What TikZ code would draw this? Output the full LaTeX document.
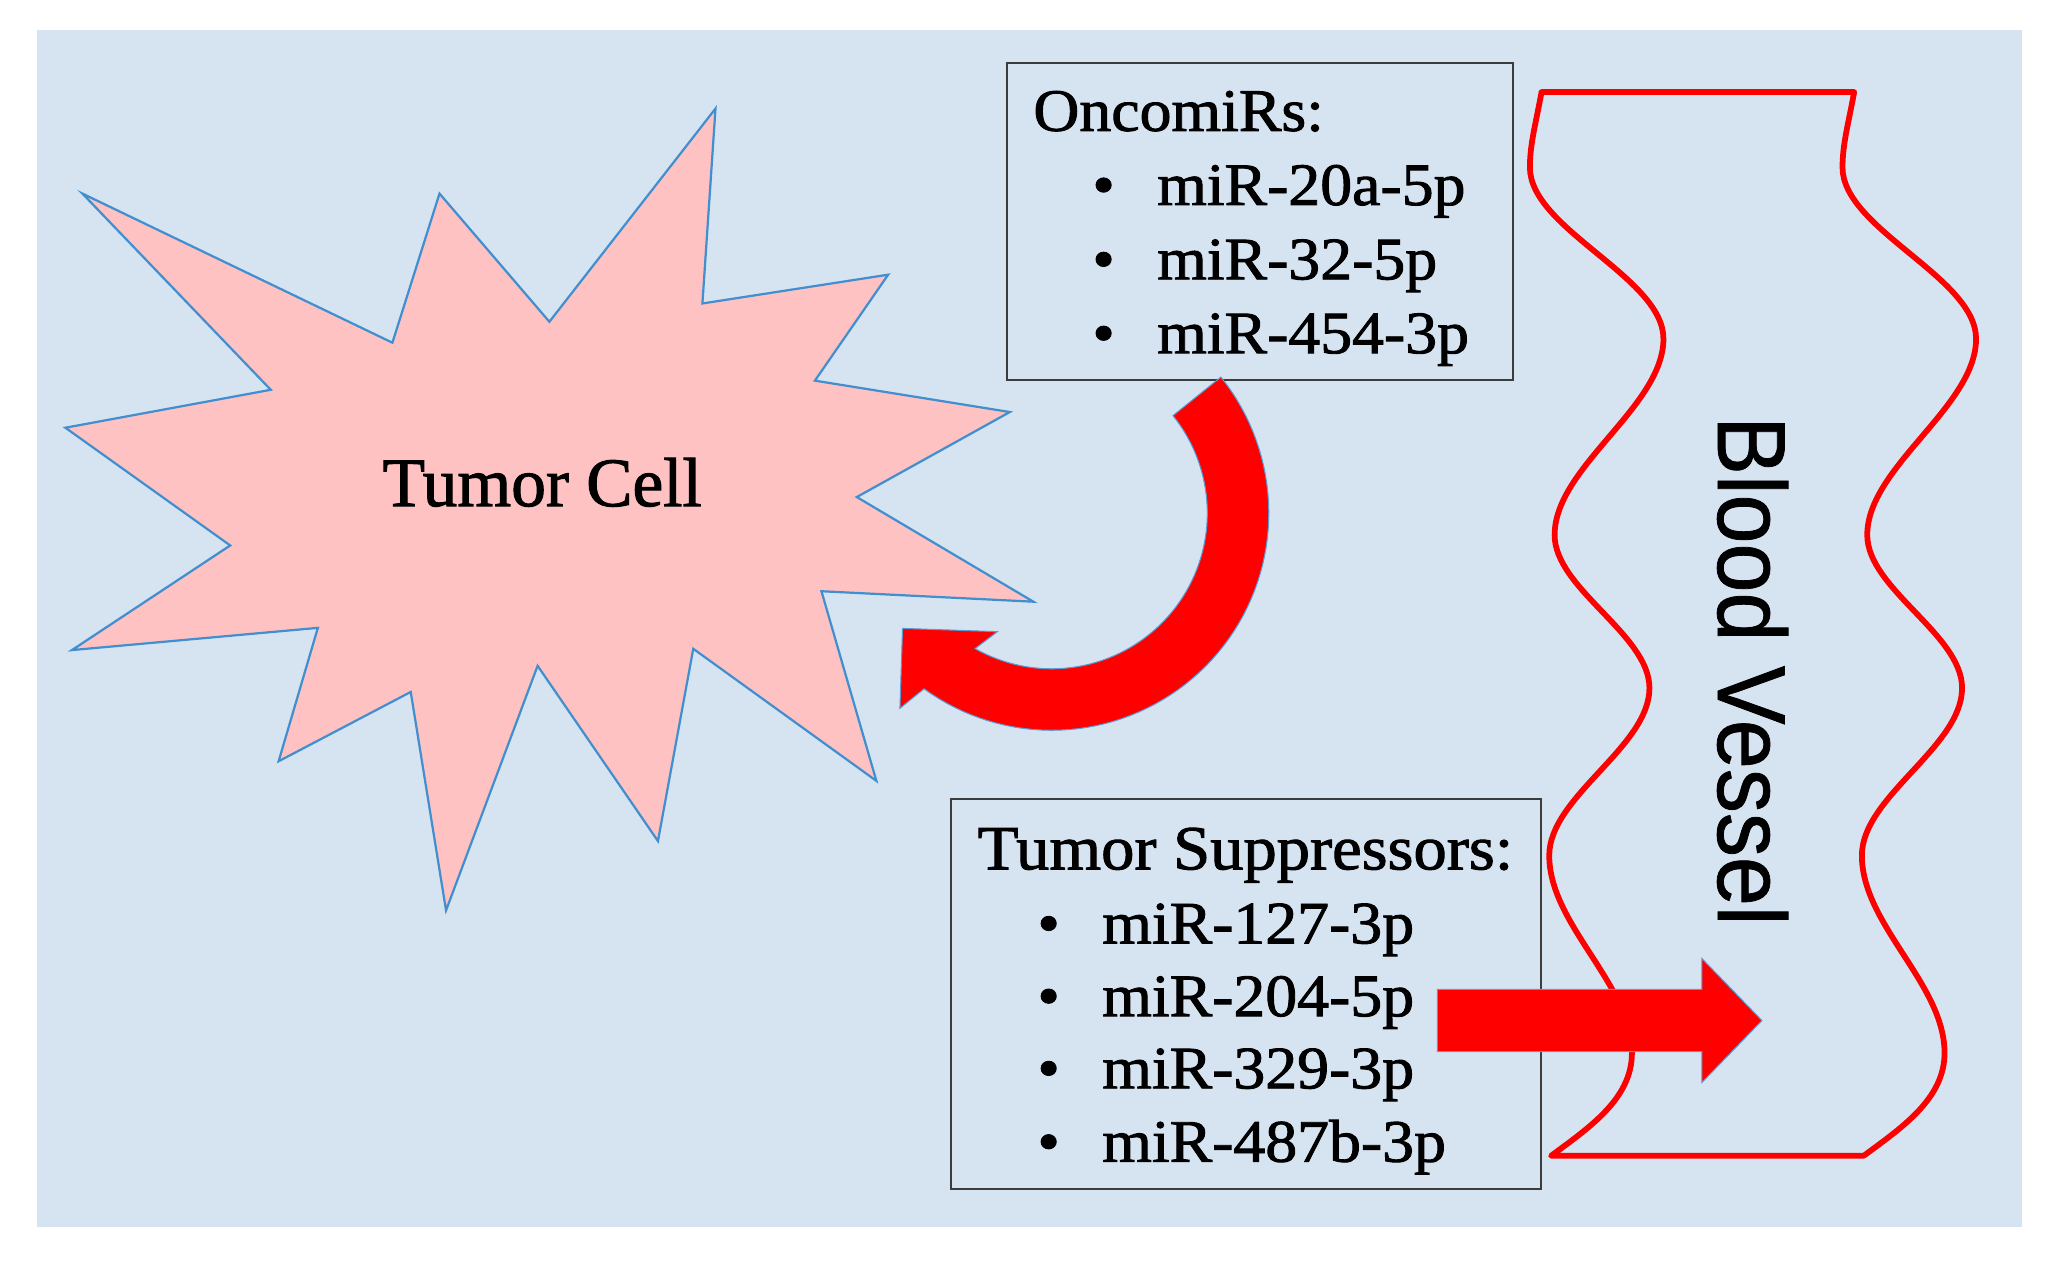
\documentclass[tikz,border=0pt]{standalone}
\usepackage{fontspec}
\setmainfont[FakeStretch=1.06,FakeBold=1.5]{Liberation Serif}
\newfontfamily\cellfont[FakeStretch=1.0,FakeBold=1.5]{Liberation Serif}
\newfontfamily\bvfont[FakeStretch=0.91,FakeBold=0.8]{Liberation Sans}
\definecolor{bgblue}{RGB}{214,228,242}
\definecolor{starpink}{RGB}{255,194,194}
\definecolor{starblue}{RGB}{65,143,207}
\definecolor{boxgray}{RGB}{60,60,60}
\definecolor{vred}{RGB}{255,0,0}
\definecolor{arrowedge}{RGB}{91,155,213}
\tikzset{
  listbox/.style={draw=boxgray, line width=1.6pt, fill=none, inner sep=0pt, anchor=north west},
  listtext/.style={inner sep=0pt, anchor=base west, font=\fontsize{46}{52}\selectfont},
  headtext/.style={inner sep=0pt, anchor=base west, font=\fontsize{48}{54}\selectfont},
  bullettext/.style={inner sep=0pt, anchor=base, font=\fontsize{46}{52}\selectfont},
  celltext/.style={inner sep=0pt, anchor=base west, font=\cellfont\fontsize{53}{58}\selectfont},
  vesseltext/.style={inner sep=0pt, anchor=base west, rotate=-90, font=\bvfont\fontsize{74}{80}\selectfont},
  starshape/.style={fill=starpink, draw=starblue, line width=1.7pt, line join=miter},
  vesselline/.style={draw=vred, line width=4.4pt, line join=round, line cap=round},
  blockarrow/.style={fill=vred, draw=arrowedge, line width=0.8pt, line join=miter}
}
\begin{document}
\begin{tikzpicture}[x=1pt,y=-1pt]
\useasboundingbox (0,0) rectangle (1568,968);
\fill[bgblue] (28,23) rectangle (1546,938);

% tumor cell star
\draw[starshape] (63,148) -- (300,262) -- (336,148) -- (420,246) -- (547,83) -- (537,232)
  -- (679,210) -- (623,291) -- (772,315) -- (655,380) -- (790,460) -- (628,452)
  -- (670,597) -- (530,496) -- (503,643) -- (411,509) -- (341,696) -- (314,529)
  -- (213,582) -- (243,480) -- (55,497) -- (176,417) -- (50,327) -- (207,298) -- cycle;
\node[celltext] (cell) at (292.4,386.9) {Tumor Cell};

% blood vessel outline
\draw[vesselline] (1178.5,70.4) -- (1417.5,70.4)
  .. controls (1413,95) and (1408.6,110) .. (1408.6,128)
  .. controls (1408.6,175) and (1510.7,212) .. (1510.7,259)
  .. controls (1510.7,311) and (1427.5,357) .. (1427.5,409)
  .. controls (1427.5,450) and (1500,485) .. (1500,526)
  .. controls (1500,571) and (1423.4,609) .. (1423.4,654)
  .. controls (1423.4,707) and (1486.6,752) .. (1486.6,805)
  .. controls (1486.6,840) and (1454,862) .. (1424.8,883.6)
  -- (1185.8,883.6)
  .. controls (1215,862) and (1247.6,840) .. (1247.6,805)
  .. controls (1247.6,752) and (1184.4,707) .. (1184.4,654)
  .. controls (1184.4,609) and (1261,571) .. (1261,526)
  .. controls (1261,485) and (1188.5,450) .. (1188.5,409)
  .. controls (1188.5,357) and (1271.7,311) .. (1271.7,259)
  .. controls (1271.7,212) and (1169.6,175) .. (1169.6,128)
  .. controls (1169.6,110) and (1174,95) .. (1178.5,70.4) -- cycle;
\node[vesseltext] (vessel) at (1313.4,318) {Blood Vessel};

% OncomiRs box
\node[listbox, minimum width=387pt, minimum height=242pt] (onco) at (768.7,47.7) {};
\node[listtext] (oncot) at (789.8,100) {OncomiRs:};
\node[bullettext] (ob1) at (843.7,156.7) {•};
\node[bullettext] (ob2) at (843.7,213.5) {•};
\node[bullettext] (ob3) at (843.7,270) {•};
\node[listtext] (o1) at (884.5,156.7) {miR-20a-5p};
\node[listtext] (o2) at (884.5,213.5) {miR-32-5p};
\node[listtext] (o3) at (884.5,270) {miR-454-3p};

% Tumor suppressors box
\node[listbox, minimum width=451pt, minimum height=298pt] (supp) at (726.2,610.3) {};
\node[headtext] (suppt) at (747.3,664.6) {Tumor Suppressors:};
\node[bullettext] (sb1) at (801.7,721.2) {•};
\node[bullettext] (sb2) at (801.7,776.8) {•};
\node[bullettext] (sb3) at (801.7,832) {•};
\node[bullettext] (sb4) at (801.7,888.1) {•};
\node[listtext] (s1) at (842.5,721.2) {miR-127-3p};
\node[listtext] (s2) at (842.5,776.8) {miR-204-5p};
\node[listtext] (s3) at (842.5,832) {miR-329-3p};
\node[listtext] (s4) at (842.5,888.1) {miR-487b-3p};

% curved arrow from OncomiRs back to the tumor cell
\draw[blockarrow] plot[domain=-38.8:126, samples=70] ({804+166*cos(\x)},{392.3+166*sin(\x)})
  -- (688,541.5) -- (690,480.4) -- (762.5,482.9)
  -- plot[domain=119.5:-38.8, samples=70] ({804+119*cos(\x)},{392.3+119*sin(\x)}) -- cycle;

% straight arrow to blood vessel
\draw[blockarrow] (1098.9,756.4) -- (1301,756.4) -- (1301,732.7) -- (1347,780.2)
  -- (1301,827.7) -- (1301,804) -- (1098.9,804) -- cycle;
\end{tikzpicture}
\end{document}
